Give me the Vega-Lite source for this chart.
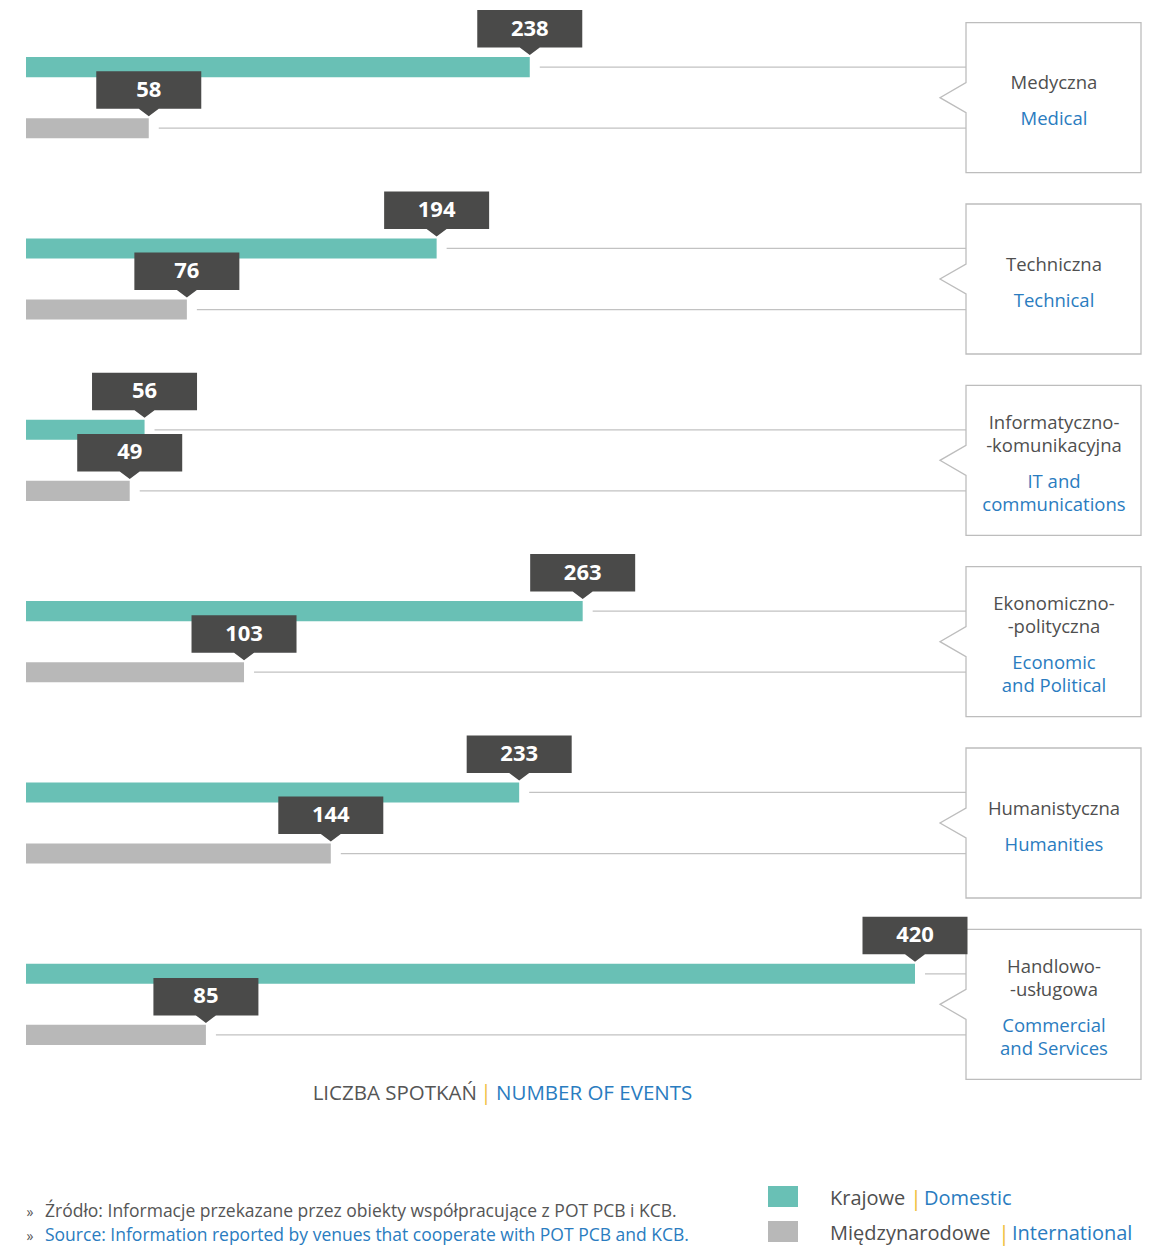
{
  "$schema": "https://vega.github.io/schema/vega-lite/v6.json",
  "width": 1163,
  "height": 1246,
  "autosize": {"type": "fit", "contains": "padding"},
  "padding": 0,
  "background": "white",
  "config": {"view": {"stroke": null}, "text": {"font": "Open Sans"}},
  "datasets": {
    "bars": [
      {"cat": "Medyczna", "series": "Krajowe", "value": 238},
      {"cat": "Medyczna", "series": "Międzynarodowe", "value": 58},
      {"cat": "Techniczna", "series": "Krajowe", "value": 194},
      {"cat": "Techniczna", "series": "Międzynarodowe", "value": 76},
      {"cat": "Informatyczno-komunikacyjna", "series": "Krajowe", "value": 56},
      {"cat": "Informatyczno-komunikacyjna", "series": "Międzynarodowe", "value": 49},
      {"cat": "Ekonomiczno-polityczna", "series": "Krajowe", "value": 263},
      {"cat": "Ekonomiczno-polityczna", "series": "Międzynarodowe", "value": 103},
      {"cat": "Humanistyczna", "series": "Krajowe", "value": 233},
      {"cat": "Humanistyczna", "series": "Międzynarodowe", "value": 144},
      {"cat": "Handlowo-usługowa", "series": "Krajowe", "value": 420},
      {"cat": "Handlowo-usługowa", "series": "Międzynarodowe", "value": 85}
    ],
    "cats": [
      {"cat": "Medyczna", "pl": ["", "Medyczna"], "en": ["Medical"]},
      {"cat": "Techniczna", "pl": ["", "Techniczna"], "en": ["Technical"]},
      {"cat": "Informatyczno-komunikacyjna", "pl": ["Informatyczno-", "-komunikacyjna"], "en": ["IT and", "communications"]},
      {"cat": "Ekonomiczno-polityczna", "pl": ["Ekonomiczno-", "-polityczna"], "en": ["Economic", "and Political"]},
      {"cat": "Humanistyczna", "pl": ["", "Humanistyczna"], "en": ["Humanities"]},
      {"cat": "Handlowo-usługowa", "pl": ["Handlowo-", "-usługowa"], "en": ["Commercial", "and Services"]}
    ],
    "legend": [
      {"series": "Krajowe", "pl": "Krajowe", "en": "Domestic"},
      {"series": "Międzynarodowe", "pl": "Międzynarodowe", "en": "International"}
    ]
  },
  "layer": [
    {
      "data": {"name": "bars"},
      "mark": {"type": "rule", "color": "#c2c2c2", "strokeWidth": 1.2, "xOffset": 10},
      "encoding": {
        "x": {"field": "value", "type": "quantitative", "axis": null,
              "scale": {"domain": [0, 420], "range": [26, 915], "nice": false, "zero": true}},
        "x2": {"value": 966},
        "y": {"field": "cat", "type": "nominal", "axis": null, "sort": null,
              "scale": {"domain": ["Medyczna", "Techniczna", "Informatyczno-komunikacyjna", "Ekonomiczno-polityczna", "Humanistyczna", "Handlowo-usługowa"],
                        "range": [7, 1095], "paddingInner": 0, "paddingOuter": 0}},
        "yOffset": {"field": "series", "type": "nominal",
                    "scale": {"domain": ["Krajowe", "Międzynarodowe"], "paddingInner": 0.672, "paddingOuter": 0.82}}
      }
    },
    {
      "data": {"name": "bars"},
      "mark": {"type": "bar"},
      "encoding": {
        "x": {"field": "value", "type": "quantitative"},
        "y": {"field": "cat", "type": "nominal", "sort": null},
        "yOffset": {"field": "series", "type": "nominal"},
        "color": {"field": "series", "type": "nominal", "legend": null,
                  "scale": {"domain": ["Krajowe", "Międzynarodowe"], "range": ["#69c0b5", "#b8b8b8"]}}
      }
    },
    {
      "data": {"name": "cats"},
      "mark": {"type": "point", "shape": "M -87.5 -75 H 87.5 V 75 H -87.5 V 15 L -113.5 0 L -87.5 -15 Z",
               "size": 4, "filled": true, "fill": "white", "stroke": "#bdbdbd", "strokeWidth": 1.3, "opacity": 1},
      "encoding": {
        "x": {"value": 1053.5},
        "y": {"field": "cat", "type": "nominal", "sort": null}
      }
    },
    {
      "data": {"name": "cats"},
      "mark": {"type": "text", "fontSize": 18.5, "lineHeight": 23, "color": "#4f4f4f", "align": "center", "baseline": "middle", "dy": -37.5},
      "encoding": {"x": {"value": 1054}, "y": {"field": "cat", "type": "nominal", "sort": null}, "text": {"field": "pl"}}
    },
    {
      "data": {"name": "cats"},
      "mark": {"type": "text", "fontSize": 18.5, "lineHeight": 23, "color": "#2a7cc0", "align": "center", "baseline": "middle", "dy": 21.5},
      "encoding": {"x": {"value": 1054}, "y": {"field": "cat", "type": "nominal", "sort": null}, "text": {"field": "en"}}
    },
    {
      "data": {"name": "bars"},
      "mark": {"type": "point", "shape": "M -52.5 -57 H 52.5 V -19.5 H 10 L 0 -12 L -10 -19.5 H -52.5 Z",
               "size": 4, "filled": true, "color": "#4a4a49", "strokeWidth": 0, "opacity": 1},
      "encoding": {
        "x": {"field": "value", "type": "quantitative"},
        "y": {"field": "cat", "type": "nominal", "sort": null},
        "yOffset": {"field": "series", "type": "nominal"}
      }
    },
    {
      "data": {"name": "bars"},
      "mark": {"type": "text", "fontSize": 22, "fontWeight": "bold", "color": "white", "align": "center", "baseline": "middle", "dy": -38.5},
      "encoding": {
        "x": {"field": "value", "type": "quantitative"},
        "y": {"field": "cat", "type": "nominal", "sort": null},
        "yOffset": {"field": "series", "type": "nominal"},
        "text": {"field": "value", "type": "quantitative"}
      }
    },
    {
      "data": {"values": [{"t": "LICZBA SPOTKAŃ"}]},
      "mark": {"type": "text", "fontSize": 20.5, "color": "#555555", "align": "right", "baseline": "middle"},
      "encoding": {"x": {"value": 477}, "y": {"value": 1094}, "text": {"field": "t"}}
    },
    {
      "data": {"values": [{"t": "|"}]},
      "mark": {"type": "text", "fontSize": 21, "color": "#f0c040", "align": "center", "baseline": "middle"},
      "encoding": {"x": {"value": 486}, "y": {"value": 1094}, "text": {"field": "t"}}
    },
    {
      "data": {"values": [{"t": "NUMBER OF EVENTS"}]},
      "mark": {"type": "text", "fontSize": 20.5, "color": "#2a7cc0", "align": "left", "baseline": "middle"},
      "encoding": {"x": {"value": 496}, "y": {"value": 1094}, "text": {"field": "t"}}
    },
    {
      "data": {"values": [{"t": "»"}]},
      "mark": {"type": "text", "fontSize": 14, "color": "#555555", "align": "center", "baseline": "middle"},
      "encoding": {"x": {"value": 30}, "y": {"value": 1213}, "text": {"field": "t"}}
    },
    {
      "data": {"values": [{"t": "»"}]},
      "mark": {"type": "text", "fontSize": 14, "color": "#555555", "align": "center", "baseline": "middle"},
      "encoding": {"x": {"value": 30}, "y": {"value": 1237}, "text": {"field": "t"}}
    },
    {
      "data": {"values": [{"t": "Źródło: Informacje przekazane przez obiekty współpracujące z POT PCB i KCB."}]},
      "mark": {"type": "text", "fontSize": 17.5, "color": "#555555", "align": "left", "baseline": "middle"},
      "encoding": {"x": {"value": 45}, "y": {"value": 1212}, "text": {"field": "t"}}
    },
    {
      "data": {"values": [{"t": "Source: Information reported by venues that cooperate with POT PCB and KCB."}]},
      "mark": {"type": "text", "fontSize": 17.5, "color": "#2a7cc0", "align": "left", "baseline": "middle"},
      "encoding": {"x": {"value": 45}, "y": {"value": 1236}, "text": {"field": "t"}}
    },
    {
      "data": {"name": "legend"},
      "transform": [{"filter": "datum.series === 'Krajowe'"}],
      "mark": {"type": "point", "shape": "M -15 -10.5 H 15 V 10.5 H -15 Z", "size": 4, "filled": true, "opacity": 1, "strokeWidth": 0},
      "encoding": {"x": {"value": 783}, "y": {"value": 1196.5}, "color": {"field": "series", "type": "nominal"}}
    },
    {
      "data": {"name": "legend"},
      "transform": [{"filter": "datum.series === 'Międzynarodowe'"}],
      "mark": {"type": "point", "shape": "M -15 -10.5 H 15 V 10.5 H -15 Z", "size": 4, "filled": true, "opacity": 1, "strokeWidth": 0},
      "encoding": {"x": {"value": 783}, "y": {"value": 1231.5}, "color": {"field": "series", "type": "nominal"}}
    },
    {
      "data": {"name": "legend"},
      "transform": [{"filter": "datum.series === 'Krajowe'"}],
      "mark": {"type": "text", "fontSize": 20, "color": "#4f4f4f", "align": "left", "baseline": "middle"},
      "encoding": {"x": {"value": 830}, "y": {"value": 1199}, "text": {"field": "pl"}}
    },
    {
      "data": {"values": [{"t": "|"}]},
      "mark": {"type": "text", "fontSize": 22, "color": "#f0c040", "align": "center", "baseline": "middle"},
      "encoding": {"x": {"value": 916}, "y": {"value": 1199}, "text": {"field": "t"}}
    },
    {
      "data": {"name": "legend"},
      "transform": [{"filter": "datum.series === 'Krajowe'"}],
      "mark": {"type": "text", "fontSize": 20, "color": "#2a7cc0", "align": "left", "baseline": "middle"},
      "encoding": {"x": {"value": 924}, "y": {"value": 1199}, "text": {"field": "en"}}
    },
    {
      "data": {"name": "legend"},
      "transform": [{"filter": "datum.series === 'Międzynarodowe'"}],
      "mark": {"type": "text", "fontSize": 20, "color": "#4f4f4f", "align": "left", "baseline": "middle"},
      "encoding": {"x": {"value": 830}, "y": {"value": 1234}, "text": {"field": "pl"}}
    },
    {
      "data": {"values": [{"t": "|"}]},
      "mark": {"type": "text", "fontSize": 22, "color": "#f0c040", "align": "center", "baseline": "middle"},
      "encoding": {"x": {"value": 1004}, "y": {"value": 1234}, "text": {"field": "t"}}
    },
    {
      "data": {"name": "legend"},
      "transform": [{"filter": "datum.series === 'Międzynarodowe'"}],
      "mark": {"type": "text", "fontSize": 20, "color": "#2a7cc0", "align": "left", "baseline": "middle"},
      "encoding": {"x": {"value": 1012}, "y": {"value": 1234}, "text": {"field": "en"}}
    }
  ]
}
